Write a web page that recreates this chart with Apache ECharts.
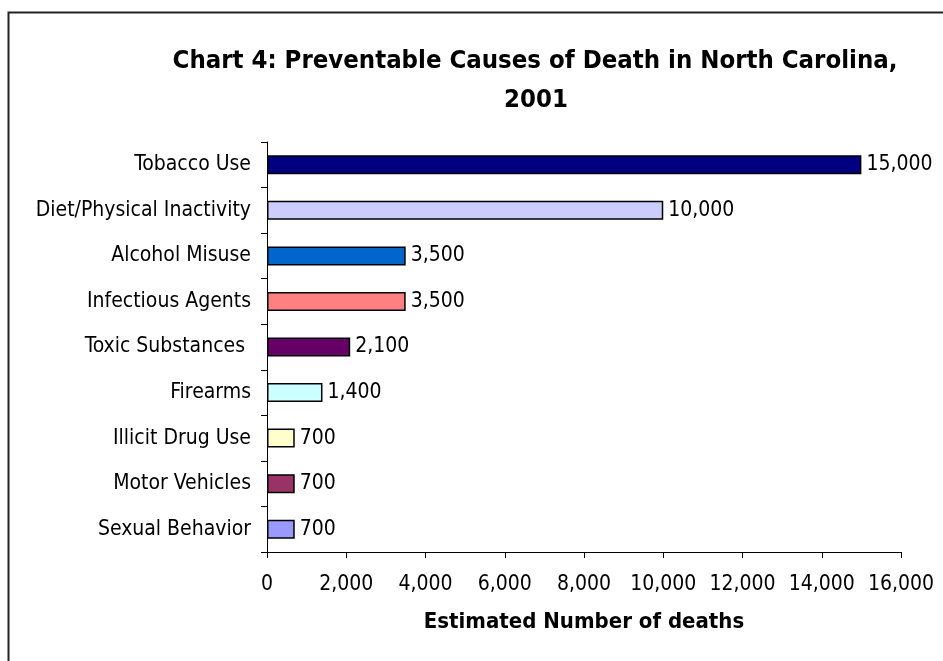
<!DOCTYPE html>
<html>
<head>
<meta charset="utf-8">
<script src="https://cdn.jsdelivr.net/npm/echarts@6/dist/echarts.min.js"></script>
<style>
  html, body { margin: 0; padding: 0; background: #fff; }
  #chart { width: 943px; height: 661px; }
</style>
</head>
<body>
<div id="chart"></div>
<script>
// Causes listed top to bottom
const causes = [
  'Tobacco Use', 'Diet/Physical Inactivity', 'Alcohol Misuse', 'Infectious Agents',
  'Toxic Substances ', 'Firearms', 'Illicit Drug Use', 'Motor Vehicles', 'Sexual Behavior'
];
const deaths = [15000, 10000, 3500, 3500, 2100, 1400, 700, 700, 700];
const barColors = [
  '#000080', '#CCCCFF', '#0066CC', '#FF8080', '#660066',
  '#CCFFFF', '#FFFFCC', '#993366', '#9999FF'
];
const xTicks = [0, 2000, 4000, 6000, 8000, 10000, 12000, 14000, 16000];

const FONT = '"DejaVu Sans Condensed", "DejaVu Sans", sans-serif';
const fmt = v => Number(v).toLocaleString('en-US');
const titleStyle = { fontFamily: FONT, fontWeight: 'bold', fontSize: 25.5, color: '#000' };

const chart = echarts.init(document.getElementById('chart'));
chart.setOption({
  backgroundColor: '#fff',
  animation: false,
  title: [
    { text: 'Chart 4: Preventable Causes of Death in North Carolina,', left: 530, top: 43, textAlign: 'center', textStyle: titleStyle },
    { text: '2001', left: 531, top: 82, textAlign: 'center', textStyle: titleStyle }
  ],
  graphic: [{
    type: 'rect',
    left: 6, top: 10,
    shape: { width: 1000, height: 700 },
    style: { fill: 'none', stroke: '#222', lineWidth: 2 },
    silent: true
  }],
  grid: { left: 267, right: 42, top: 142, bottom: 109 },
  xAxis: {
    type: 'value',
    min: xTicks[0],
    max: xTicks[xTicks.length - 1],
    interval: xTicks[1] - xTicks[0],
    name: 'Estimated Number of deaths',
    nameLocation: 'middle',
    nameGap: 59,
    nameTextStyle: { fontFamily: FONT, fontWeight: 'bold', fontSize: 22, color: '#000' },
    axisLine: { show: true, lineStyle: { color: '#000', width: 1 } },
    axisTick: { show: true, length: 6, lineStyle: { color: '#000' } },
    axisLabel: { fontFamily: FONT, fontSize: 21, color: '#000', margin: 22, formatter: fmt },
    splitLine: { show: false }
  },
  yAxis: {
    type: 'category',
    data: causes,
    inverse: true,
    axisLine: { show: true, lineStyle: { color: '#000', width: 1 } },
    axisTick: { show: true, length: 6, lineStyle: { color: '#000' } },
    axisLabel: { fontFamily: FONT, fontSize: 21, color: '#000', margin: 16 }
  },
  series: [{
    type: 'bar',
    data: deaths.map((v, i) => ({ value: v, itemStyle: { color: barColors[i] } })),
    barWidth: 19,
    itemStyle: { borderColor: '#000', borderWidth: 1.5 },
    label: {
      show: true,
      position: 'right',
      distance: 5,
      fontFamily: FONT,
      fontSize: 21,
      color: '#000',
      formatter: p => fmt(p.value)
    }
  }]
});
</script>
</body>
</html>
